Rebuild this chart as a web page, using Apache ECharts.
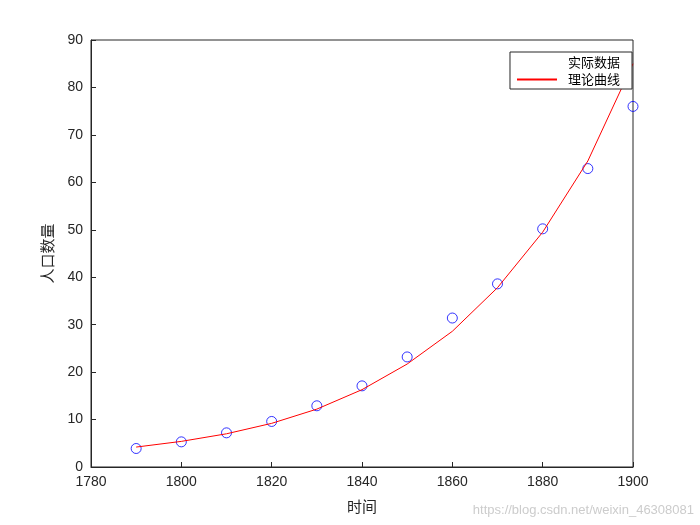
<!DOCTYPE html><html><head><meta charset="utf-8"><script src="https://cdn.jsdelivr.net/npm/echarts@6/dist/echarts.min.js"></script></head><body style="margin:0;background:#fff"><div id="c" style="width:700px;height:525px"></div><script>
const years=[1790,1800,1810,1820,1830,1840,1850,1860,1870,1880,1890,1900];
const actual=[3.9,5.3,7.2,9.6,12.9,17.1,23.2,31.4,38.6,50.2,62.9,76.0];
const theory=[4.2,5.4,7.0,9.2,12.2,16.3,21.7,28.6,37.8,49.5,64.5,85.0];
const ch=echarts.init(document.getElementById('c'));
const ax={axisLine:{lineStyle:{color:'#262626'}},axisTick:{inside:true,lineStyle:{color:'#262626'}},axisLabel:{color:'#262626',fontSize:14,fontFamily:'Liberation Sans',formatter:v=>String(v)},splitLine:{show:false}};
ch.setOption({animation:false,
grid:{left:91,right:67,top:40,bottom:58,show:true,borderColor:'#262626',borderWidth:1},
legend:{right:68,top:52,orient:'vertical',backgroundColor:'#fff',borderColor:'#262626',borderWidth:1,borderRadius:0,padding:[3,12,3,6],itemGap:4,itemWidth:40,itemHeight:12,textStyle:{fontSize:13,color:'#000',fontFamily:'Noto Sans CJK SC',padding:[0,0,0,6]},data:[{name:'实际数据',icon:'emptyCircle',itemStyle:{color:'#fff',borderColor:'#0000ff',borderWidth:1}},{name:'理论曲线',itemStyle:{opacity:0}}]},
xAxis:{type:'value',min:1780,max:1900,interval:20,name:'时间',nameLocation:'middle',nameGap:32,nameTextStyle:{fontSize:15,color:'#262626',fontFamily:'Noto Sans CJK SC'},...ax},
yAxis:{type:'value',min:0,max:90,interval:10,name:'人口数量',nameLocation:'middle',nameGap:36,nameTextStyle:{fontSize:15,color:'#262626',fontFamily:'Noto Sans CJK SC'},...ax},
series:[{name:'实际数据',type:'scatter',symbol:'circle',symbolSize:10,itemStyle:{color:'transparent',borderColor:'#0000ff',borderWidth:1},data:years.map((y,i)=>[y,actual[i]])},
{name:'理论曲线',type:'line',symbol:'none',lineStyle:{color:'#ff0000',width:1},itemStyle:{color:'#ff0000'},data:years.map((y,i)=>[y,theory[i]])}],
graphic:[{type:'text',right:6,bottom:8,style:{text:'https://blog.csdn.net/weixin_46308081',fill:'#ccc',fontSize:13,fontFamily:'Liberation Sans'}}]
});
</script></body></html>
